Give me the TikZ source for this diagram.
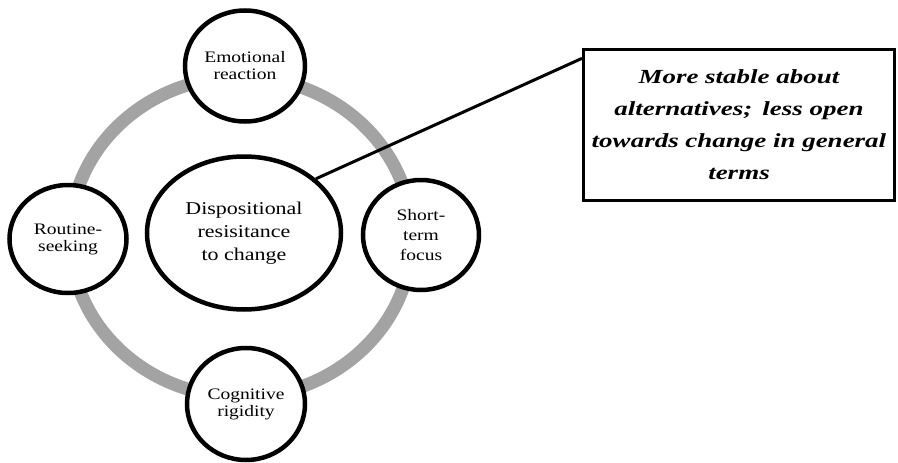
\documentclass[tikz,border=0pt]{standalone}
\usepackage{fontspec}
\setmainfont{Liberation Serif}
\newfontfamily\circfont[FakeStretch=1.22]{Liberation Serif}
\newfontfamily\boxfont[FakeStretch=1.35]{Liberation Serif}
\usetikzlibrary{shapes.geometric}
\definecolor{ringgray}{HTML}{A3A3A3}
\begin{document}
\begin{tikzpicture}[x=1pt,y=-1pt,
  bubble/.style={ellipse, draw=black, line width=4.5pt, fill=white, inner sep=0pt, align=center, font=\circfont\fontsize{16}{17}\selectfont},
  notebox/.style={rectangle, draw=black, line width=3pt, fill=white, align=center, font=\boxfont\fontsize{20}{32}\selectfont\bfseries\itshape}]
\useasboundingbox[fill=white] (0,0) rectangle (898,463);
\draw[ringgray, line width=13pt] (241,237) ellipse [x radius=171, y radius=160];
\node[bubble, minimum width=120pt, minimum height=111pt] (emo) at (245,66) {Emotional\\reaction};
\node[bubble, minimum width=117pt, minimum height=108pt] (rout) at (68,239) {Routine-\\seeking};
\node[bubble, minimum width=116pt, minimum height=110pt, font=\circfont\fontsize{16}{20}\selectfont] (short) at (421,235) {Short-\\term\\focus};
\node[bubble, minimum width=118pt, minimum height=112pt] (cog) at (246,404) {Cognitive\\rigidity};
\node[bubble, minimum width=194pt, minimum height=153pt, font=\circfont\fontsize{18}{23}\selectfont] (disp) at (244,233) {Dispositional\\resisitance\\to change};
\node[notebox, minimum width=311pt, minimum height=151pt, text width=304pt] (note) at (739,125) {More stable about\\alternatives;\, less open\\towards change in general\\terms};
\draw[black, line width=3pt] (disp.37) -- (note.157);
\end{tikzpicture}
\end{document}
